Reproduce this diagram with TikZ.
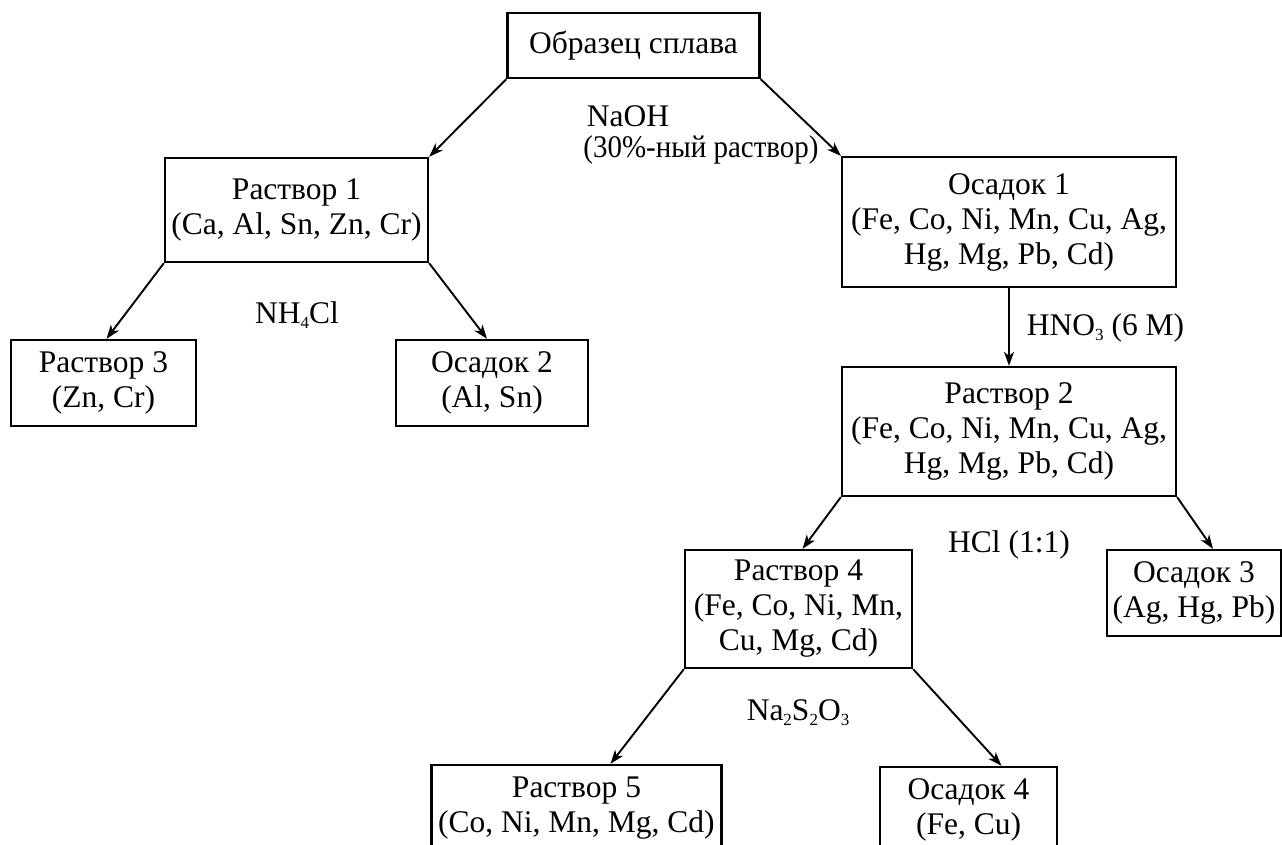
\documentclass[tikz,border=0pt]{standalone}
\usepackage{fontspec}
\usepackage{graphicx}
\setmainfont{Liberation Serif}
\usetikzlibrary{arrows.meta,calc}
\newcommand{\sbs}[1]{\raisebox{-5pt}{\fontsize{17}{17}\selectfont #1}}
\tikzset{
  txt/.style={font=\fontsize{31.5}{35}\selectfont, inner sep=0pt, align=center},
  box/.style={txt, draw, line width=2.3pt, rectangle},
  lbl/.style={txt, anchor=base},
  arr/.style={line width=1.9pt, -{Stealth[length=14pt,width=10pt,inset=4pt]}}
}
\begin{document}
\begin{tikzpicture}[x=1pt,y=-1pt]
\useasboundingbox (0,0) rectangle (1282,845);
\clip (0,0) rectangle (1282,845);
% boxes
\node[box, minimum width=252, minimum height=65] (top) at (633.5,45.5) {Образец сплава};
\node[box, minimum width=263, minimum height=104] (r1) at (296.5,210) {Раствор 1\\(Ca, Al, Sn, Zn, Cr)};
\node[box, minimum width=185, minimum height=86] (r3) at (103.5,383) {Раствор 3\\(Zn, Cr)};
\node[box, minimum width=192, minimum height=86] (o2) at (492,383) {Осадок 2\\(Al, Sn)};
\node[box, minimum width=334, minimum height=130] (o1) at (1009,222) {Осадок 1\\(Fe, Co, Ni, Mn, Cu, Ag,\\Hg, Mg, Pb, Cd)};
\node[box, minimum width=334, minimum height=129] (r2) at (1009,431.5) {Раствор 2\\(Fe, Co, Ni, Mn, Cu, Ag,\\Hg, Mg, Pb, Cd)};
\node[box, minimum width=174, minimum height=86] (o3) at (1194,593) {Осадок 3\\(Ag, Hg, Pb)};
\node[box, minimum width=227, minimum height=118] (r4) at (798.5,609) {Раствор 4\\(Fe, Co, Ni, Mn,\\Cu, Mg, Cd)};
\node[box, minimum width=290, minimum height=86] (r5) at (576.5,808) {Раствор 5\\(Co, Ni, Mn, Mg, Cd)};
\node[box, minimum width=177, minimum height=86] (o4) at (968.5,810) {Осадок 4\\(Fe, Cu)};
% labels
\node[lbl] (naoh) at (628,127) {NaOH};
\node[lbl] (naohb) at (701,158) {\scalebox{0.92}[1]{(30\%-ный раствор)}};
\node[lbl] (nh4cl) at (297,323) {NH\sbs{4}Cl};
\node[lbl] (hno3) at (1105.5,335) {HNO\sbs{3} (6 M)};
\node[lbl] (hcl) at (1009,552) {HCl (1:1)};
\node[lbl] (na2s2o3) at (798,720) {Na\sbs{2}S\sbs{2}O\sbs{3}};
% arrows
\draw[arr] (top.south west) -- (r1.north east);
\draw[arr] (top.south east) -- (o1.north west);
\draw[arr] (r1.south west) -- ($(r3.north)+(3,0)$);
\draw[arr] (r1.south east) -- ($(o2.north)+(-5,0)$);
\draw[arr] (o1.south) -- (r2.north);
\draw[arr] (r2.south west) -- ($(r4.north)+(4,0)$);
\draw[arr] (r2.south east) -- ($(o3.north)+(19,0)$);
\draw[arr] (r4.south west) -- ($(r5.north)+(34,0)$);
\draw[arr] (r4.south east) -- ($(o4.north)+(33,0)$);
\end{tikzpicture}
\end{document}
